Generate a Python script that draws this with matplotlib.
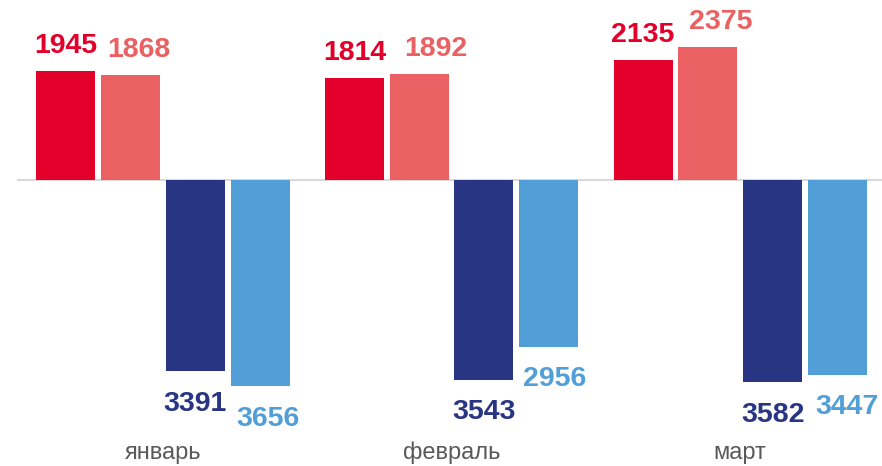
import matplotlib.pyplot as plt
import numpy as np

plt.rcParams['font.family'] = ['Liberation Sans', 'DejaVu Sans']

months = ["январь", "февраль", "март"]
red_dark = [1945, 1814, 2135]
red_light = [1868, 1892, 2375]
blue_dark = [3391, 3543, 3582]
blue_light = [3656, 2956, 3447]

# sign, colour and horizontal nudge (points) of the value labels per series
series = [
    (red_dark, 1, "#E2002A", [0, 0, 0]),
    (red_light, 1, "#EB6062", [6, 12, 9.5]),
    (blue_dark, -1, "#283583", [0, 0, 0]),
    (blue_light, -1, "#529FD8", [6, 4, 7]),
]

fig = plt.figure(figsize=(8.82, 4.66), dpi=100)
ax = fig.add_axes([0, 0, 1, 1])

x = np.arange(len(months))
step = 0.2245
width = 0.2044

for i, (vals, sign, color, nudge) in enumerate(series):
    pos = x + (i - 1.5) * step
    heights = [sign * v for v in vals]
    ax.bar(pos, heights, width=width, color=color, edgecolor="none", zorder=2)
    dy = 13 if sign > 0 else -28.4
    for xp, h, v, dx in zip(pos, heights, vals, nudge):
        ax.annotate(str(v), (xp, h), xytext=(dx, dy), textcoords="offset points",
                    ha="center", va="baseline", fontsize=20.5, fontweight="bold",
                    color=color)

# zero line
ax.plot([-0.502, 2.6], [0, 0], color="#D9D9D9", lw=1.5, zorder=1)

# month labels
for xp, m in zip(x, months):
    ax.text(xp, -4955, m, ha="center", va="baseline", fontsize=17, color="#595959")

ax.set_xlim(-0.564, 2.491)
ax.set_ylim(-5071, 3206)
ax.axis("off")

fig.savefig("out.png", dpi=100)
